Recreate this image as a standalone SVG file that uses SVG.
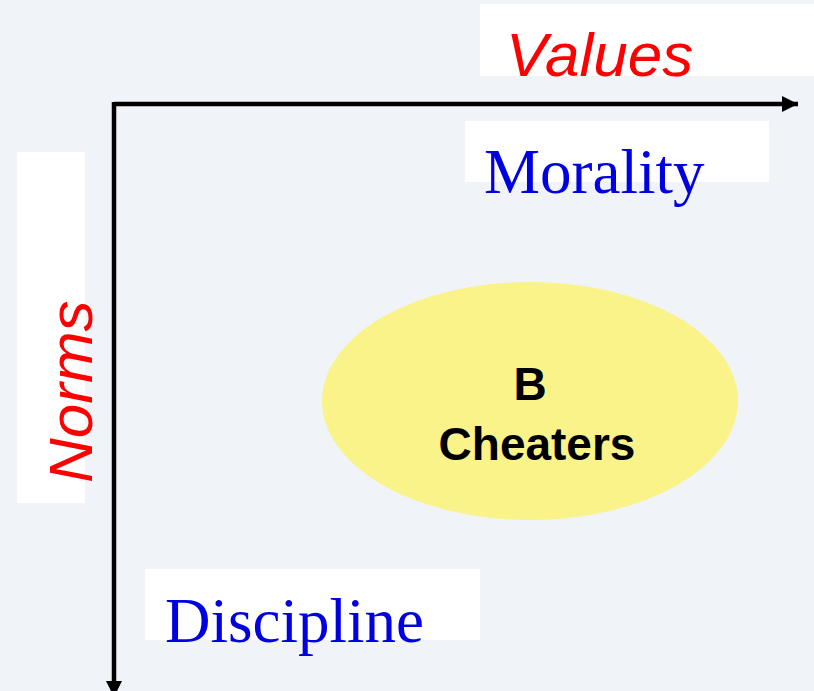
<svg xmlns="http://www.w3.org/2000/svg" width="814" height="691" viewBox="0 0 814 691">
<defs>
<style>
.lbl{fill:#ffffff}
.red{fill:#ff0000;font-family:"Liberation Sans",Arial,sans-serif;font-style:italic;font-size:62px}
.blue{fill:#0000e0;font-family:"Liberation Serif","Times New Roman",serif;font-size:63px}
.blk{fill:#000000;font-family:"Liberation Sans",Arial,sans-serif;font-weight:bold;font-size:46px;text-anchor:middle}
.axis{stroke:#000000;stroke-width:4.5;fill:none}
</style>
<marker id="ah" viewBox="0 0 10 10" refX="10" refY="5" markerWidth="3.6" markerHeight="3.8" markerUnits="strokeWidth" orient="auto">
<path d="M0,0 L10,5 L0,10 z" fill="#000000"/>
</marker>
</defs>
<rect x="0" y="0" width="814" height="691" fill="#f0f4f9"/>
<g id="connectors">
<path class="axis" d="M114,104 L798,104" marker-end="url(#ah)"/>
<path class="axis" d="M114,102 L114,697" marker-end="url(#ah)"/>
</g>
<g id="values">
<rect class="lbl" x="480" y="4" width="334" height="72"/>
<text class="red" x="506" y="76">Values</text>
</g>
<g id="morality">
<rect class="lbl" x="465" y="121" width="304" height="61"/>
<text class="blue" x="484" y="193">Morality</text>
</g>
<g id="norms">
<rect class="lbl" x="17" y="152" width="68" height="351"/>
<text class="red" transform="translate(92,483) rotate(-90)">Norms</text>
</g>
<g id="discipline">
<rect class="lbl" x="145" y="569" width="335" height="71"/>
<text class="blue" x="165" y="642">Discipline</text>
</g>
<g id="cheaters">
<ellipse cx="530" cy="401" rx="208" ry="119" fill="#f9f38a"/>
<text class="blk" x="530" y="400">B</text>
<text class="blk" x="537" y="460">Cheaters</text>
</g>
</svg>
